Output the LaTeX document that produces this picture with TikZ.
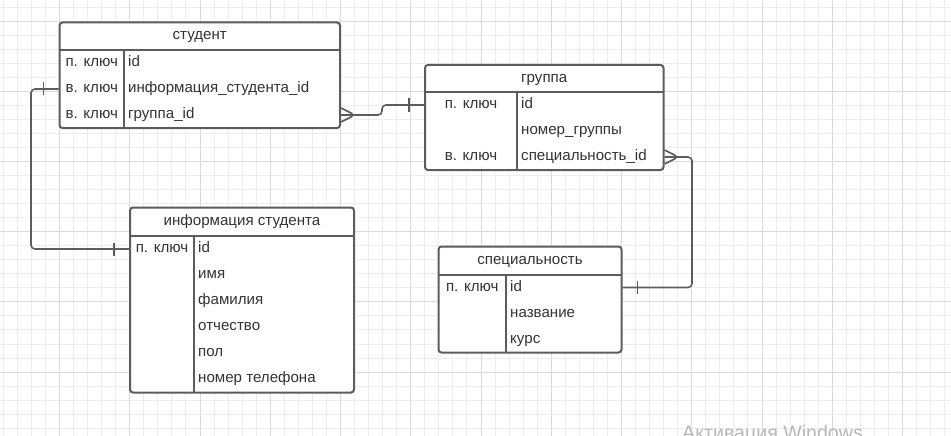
\documentclass[tikz,border=0pt]{standalone}
\usepackage{fontspec}
\setmainfont{Liberation Sans}
\usetikzlibrary{decorations.markings}

\definecolor{linegray}{HTML}{5C5C5C}
\definecolor{textgray}{HTML}{333333}
\definecolor{gridminor}{HTML}{EDEDED}
\definecolor{gridmajor}{HTML}{DADADA}
\definecolor{wmgray}{HTML}{B8B8B8}

\tikzset{
  tablebox/.style={draw=linegray, line width=2pt, fill=white, rounded corners=3pt, inner sep=0pt},
  tableline/.style={draw=linegray, line width=2pt},
  keycell/.style={inner sep=0pt, text=textgray, font=\fontsize{15.1}{17}\selectfont, text height=10pt, text depth=3pt},
  valcell/.style={keycell, anchor=west},
  conn/.style={draw=linegray, line width=1.6pt, rounded corners=4pt},
  one start/.style={postaction={decorate, decoration={markings,
      mark=at position 15pt with {\draw[conn] (0,-6.5) -- (0,6.5);}}}},
  one end/.style={postaction={decorate, decoration={markings,
      mark=at position -15pt with {\draw[conn] (0,-6.5) -- (0,6.5);}}}},
  many start/.style={postaction={decorate, decoration={markings,
      mark=at position 14pt with {\draw[conn] (-14,-7) -- (0,0) -- (-14,7);}}}}
}

\begin{document}
\begin{tikzpicture}[x=1pt,y=-1pt]
        \clip (0,0) rectangle (951,436);

        % grid
        \foreach \i in {0,...,67}
            \draw[gridminor, line width=1pt] ({3.3+14.05*\i},0) -- ({3.3+14.05*\i},436);
        \foreach \j in {0,...,30}
            \draw[gridminor, line width=1pt] (0,{7.3+14.03*\j}) -- (951,{7.3+14.03*\j});
        \foreach \i in {0,...,12}
            \draw[gridmajor, line width=1pt] ({59.5+70.25*\i},0) -- ({59.5+70.25*\i},436);
        \foreach \j in {0,...,5}
            \draw[gridmajor, line width=1pt] (0,{21.3+70.15*\j}) -- (951,{21.3+70.15*\j});

        % студент
        \node[tablebox, minimum width=280.5pt, minimum height=105.5pt] (S) at (199.75,75.25) {};
        \draw[tableline] (59.5,50) -- (340,50);
        \draw[tableline] (124,50) -- (124,128);
        \node[keycell] (Sh) at (199.75,36.25) {студент};
        \node[keycell] (S1k) at (91.75,63) {п. ключ};
        \node[keycell] (S2k) at (91.75,89) {в. ключ};
        \node[keycell] (S3k) at (91.75,115) {в. ключ};
        \node[valcell] (S1v) at (128,63) {id};
        \node[valcell] (S2v) at (128,89) {информация\_студента\_id};
        \node[valcell] (S3v) at (128,115) {группа\_id};

        % группа
        \node[tablebox, minimum width=238.5pt, minimum height=105pt] (G) at (544.25,117.5) {};
        \draw[tableline] (425,92) -- (663.5,92);
        \draw[tableline] (517,92) -- (517,170);
        \node[keycell] (Gh) at (544.25,78.5) {группа};
        \node[keycell] (G1k) at (471,105) {п. ключ};
        \node[keycell] (G3k) at (471,157) {в. ключ};
        \node[valcell] (G1v) at (521,105) {id};
        \node[valcell] (G2v) at (521,131) {номер\_группы};
        \node[valcell] (G3v) at (521,157) {специальность\_id};

        % информация студента
        \node[tablebox, minimum width=224pt, minimum height=185pt] (I) at (242,300) {};
        \draw[tableline] (130,236) -- (354,236);
        \draw[tableline] (194,236) -- (194,392.5);
        \node[keycell] (Ih) at (242,221.75) {информация студента};
        \node[keycell] (I1k) at (162,249) {п. ключ};
        \node[valcell] (I1v) at (198,249) {id};
        \node[valcell] (I2v) at (198,275.1) {имя};
        \node[valcell] (I3v) at (198,301.2) {фамилия};
        \node[valcell] (I4v) at (198,327.2) {отчество};
        \node[valcell] (I5v) at (198,353.3) {пол};
        \node[valcell] (I6v) at (198,379.4) {номер телефона};

        % специальность
        \node[tablebox, minimum width=183pt, minimum height=106pt] (P) at (530,299.5) {};
        \draw[tableline] (438.5,274.5) -- (621.5,274.5);
        \draw[tableline] (506,274.5) -- (506,352.5);
        \node[keycell] (Ph) at (530,260.5) {специальность};
        \node[keycell] (P1k) at (472.25,287.5) {п. ключ};
        \node[valcell] (P1v) at (510,287.5) {id};
        \node[valcell] (P2v) at (510,313.5) {название};
        \node[valcell] (P3v) at (510,339.5) {курс};

        % links
        \coordinate (Abend) at (31,0);
        \coordinate (Bstep) at (382,0);
        \coordinate (Cbend) at (692,0);
        \draw[conn, one start, one end] (S.west |- S2k) -| (Abend |- I1k) -- (I.west |- I1k);
        \draw[conn, many start, one end] (S.east |- S3v) -| (Bstep |- G1k) -- (G.west |- G1k);
        \draw[conn, many start, one end] (G.east |- G3v) -| (Cbend |- P1k) -- (P.east |- P1k);

        \node[anchor=base west, inner sep=0pt, text=wmgray, font=\fontsize{19.6}{22}\selectfont] (wm) at (682,439.3) {Активация Windows};
\end{tikzpicture}
\end{document}
